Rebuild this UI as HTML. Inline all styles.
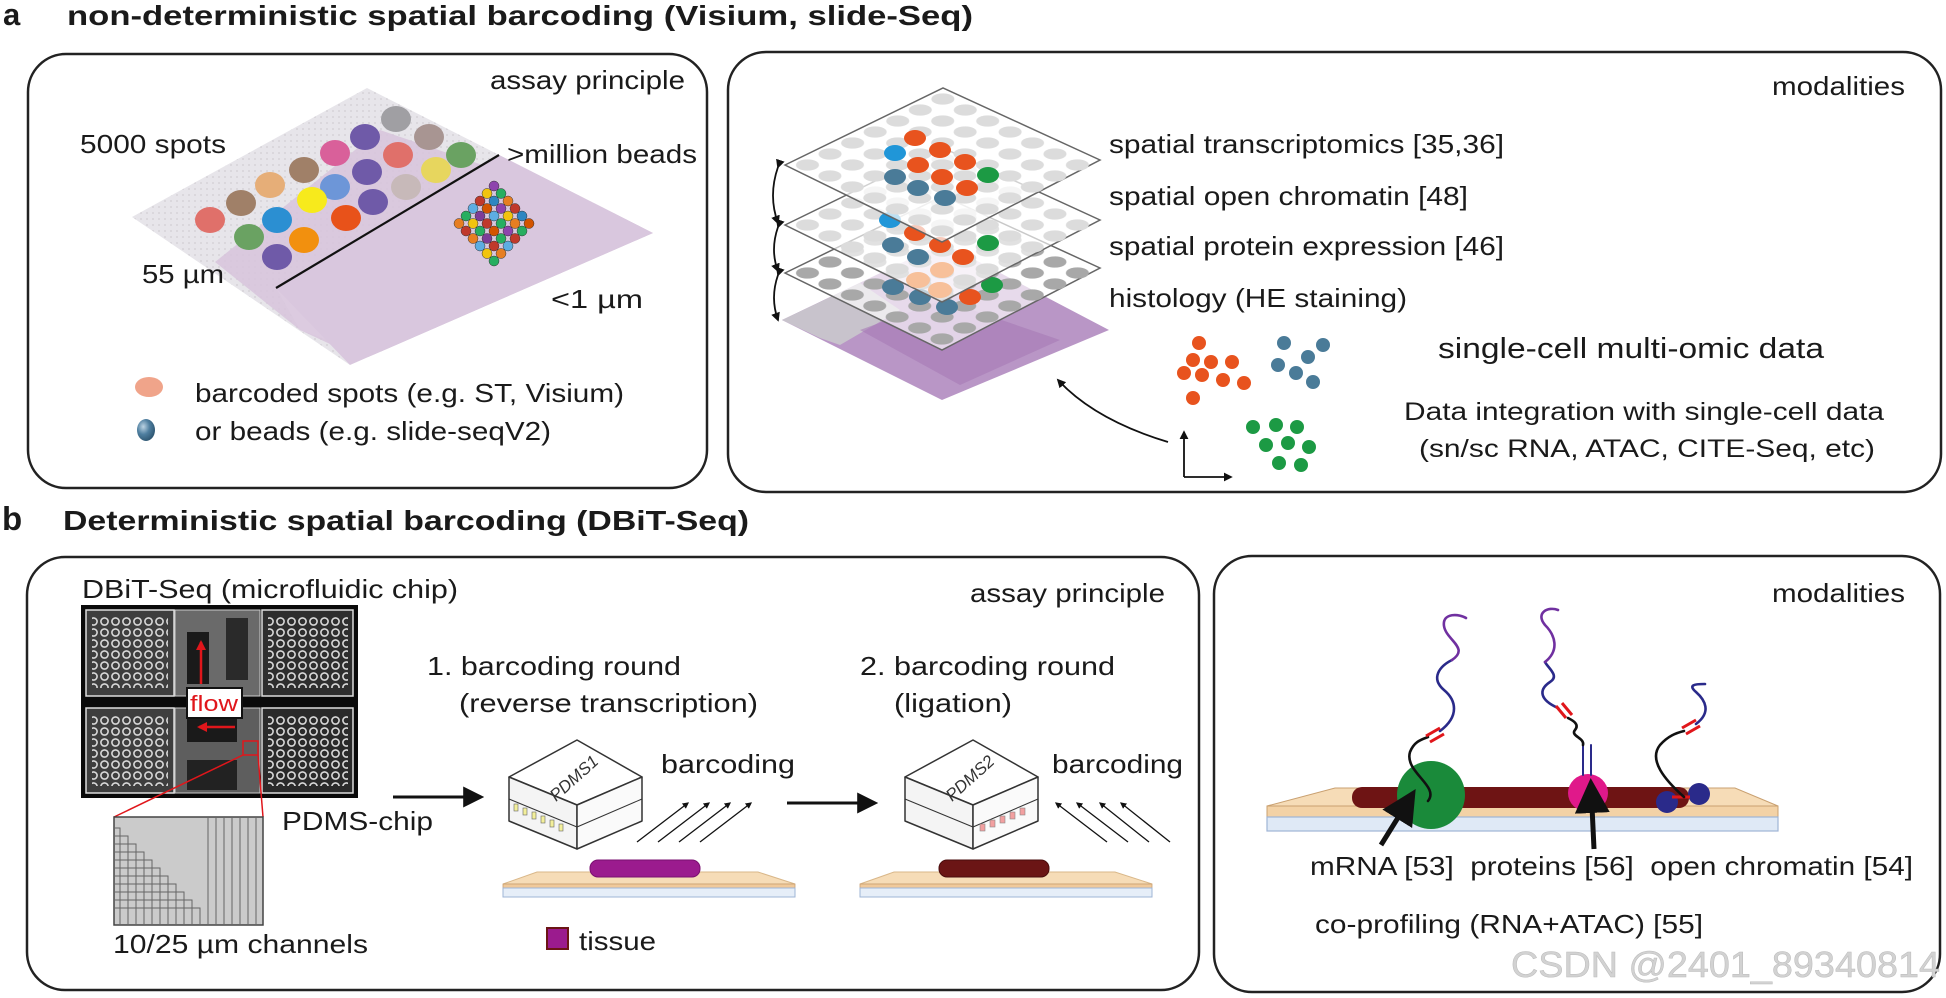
<!DOCTYPE html>
<html><head><meta charset="utf-8"><style>
html,body{margin:0;padding:0;background:#fff;}
svg{display:block;}
text{font-family:"Liberation Sans",Arial,sans-serif;fill:#1a1a1a;}
</style></head><body>
<svg width="1946" height="998" viewBox="0 0 1946 998" xmlns="http://www.w3.org/2000/svg">
<defs>
<marker id="ah" viewBox="0 0 10 10" refX="8" refY="5" markerWidth="7" markerHeight="7" orient="auto-start-reverse"><path d="M0,0 L10,5 L0,10 z" fill="#111"/></marker>
<marker id="ahs" viewBox="0 0 10 10" refX="8" refY="5" markerWidth="5" markerHeight="5" orient="auto"><path d="M0,0 L10,5 L0,10 z" fill="#111"/></marker>
<marker id="ahr" viewBox="0 0 10 10" refX="8" refY="5" markerWidth="4" markerHeight="4" orient="auto"><path d="M0,0 L10,5 L0,10 z" fill="#e0161b"/></marker>
<pattern id="grid" x="0" y="0" width="0.1428" height="0.1428" patternUnits="userSpaceOnUse"><circle cx="0.0714" cy="0.0714" r="0.052" fill="#dcdcdc"/></pattern>
<pattern id="grid2" x="0" y="0" width="0.1428" height="0.1428" patternUnits="userSpaceOnUse"><circle cx="0.0714" cy="0.0714" r="0.052" fill="#a8a8a8"/></pattern>
<pattern id="wells" x="0" y="0" width="11" height="11" patternUnits="userSpaceOnUse"><circle cx="5.5" cy="5.5" r="3.6" fill="none" stroke="#d8d8d8" stroke-width="1.6"/></pattern>
<pattern id="dots" x="0" y="0" width="6" height="6" patternUnits="userSpaceOnUse"><circle cx="3" cy="3" r="1" fill="#c9c6cc"/></pattern>
<radialGradient id="bead" cx="0.35" cy="0.35" r="0.7"><stop offset="0" stop-color="#bcd3e3"/><stop offset="0.5" stop-color="#4f7fa0"/><stop offset="1" stop-color="#2d5570"/></radialGradient>
<clipPath id="slideclip"><polygon points="132,217 367,88 653,233 350,365"/></clipPath>
</defs>

<!-- Titles -->
<text x="3" y="25" font-size="31" font-weight="bold" textLength="19">a</text>
<text x="67" y="25" font-size="28" font-weight="bold" textLength="906" lengthAdjust="spacingAndGlyphs">non-deterministic spatial barcoding (Visium, slide-Seq)</text>
<text x="2" y="530" font-size="33" font-weight="bold" textLength="25">b</text>
<text x="63" y="530" font-size="28" font-weight="bold" textLength="686" lengthAdjust="spacingAndGlyphs">Deterministic spatial barcoding (DBiT-Seq)</text>

<!-- Boxes -->
<rect x="28" y="54" width="679" height="434" rx="38" fill="none" stroke="#222" stroke-width="2.5"/>
<rect x="728" y="52" width="1213" height="440" rx="38" fill="none" stroke="#222" stroke-width="2.5"/>
<rect x="27" y="557" width="1172" height="433" rx="38" fill="none" stroke="#222" stroke-width="2.5"/>
<rect x="1214" y="556" width="726" height="436" rx="38" fill="none" stroke="#222" stroke-width="2.5"/>

<!-- ===== a-left ===== -->
<text x="490" y="89" font-size="26" textLength="195" lengthAdjust="spacingAndGlyphs">assay principle</text>
<polygon points="132,217 367,88 653,233 350,365" fill="#e7e5ea"/>
<polygon points="132,217 367,88 653,233 350,365" fill="url(#dots)" opacity="0.6"/>
<g clip-path="url(#slideclip)">
<polygon points="215,262 380,130 600,205 653,233 520,330 360,358 300,330" fill="#d7c4dc" opacity="0.85"/>
<polygon points="500,155 653,233 520,330 370,355 300,330 276,288" fill="#dccbe0"/>
<polygon points="276,288 499,155 653,233 350,365" fill="#d9c7de"/>
</g>
<line x1="276" y1="288" x2="499" y2="155" stroke="#111" stroke-width="2.2"/>
<g>
<ellipse cx="396" cy="119" rx="15" ry="13" fill="#a09fa3"/>
<ellipse cx="365" cy="137" rx="15" ry="13" fill="#6f5aa8"/>
<ellipse cx="429" cy="137" rx="15" ry="13" fill="#a89592"/>
<ellipse cx="335" cy="153" rx="15" ry="13" fill="#d9609a"/>
<ellipse cx="398" cy="155" rx="15" ry="13" fill="#e0706a"/>
<ellipse cx="461" cy="155" rx="15" ry="13" fill="#6aa262"/>
<ellipse cx="304" cy="170" rx="15" ry="13" fill="#a08068"/>
<ellipse cx="367" cy="172" rx="15" ry="13" fill="#6f5aa8"/>
<ellipse cx="436" cy="170" rx="15" ry="13" fill="#e7d65e"/>
<ellipse cx="270" cy="185" rx="15" ry="13" fill="#e6ae78"/>
<ellipse cx="335" cy="187" rx="15" ry="13" fill="#6d96d8"/>
<ellipse cx="406" cy="187" rx="15" ry="13" fill="#c7b9b9"/>
<ellipse cx="241" cy="203" rx="15" ry="13" fill="#a08068"/>
<ellipse cx="312" cy="200" rx="15" ry="13" fill="#f7ea1c"/>
<ellipse cx="373" cy="202" rx="15" ry="13" fill="#6f5aa8"/>
<ellipse cx="210" cy="220" rx="15" ry="13" fill="#e0706a"/>
<ellipse cx="277" cy="220" rx="15" ry="13" fill="#2b8fd2"/>
<ellipse cx="346" cy="218" rx="15" ry="13" fill="#e8521a"/>
<ellipse cx="249" cy="237" rx="15" ry="13" fill="#6aa262"/>
<ellipse cx="304" cy="240" rx="15" ry="13" fill="#f2900e"/>
<ellipse cx="277" cy="257" rx="15" ry="13" fill="#6f5aa8"/>
</g>
<g stroke="#333" stroke-width="0.5">
<circle cx="494" cy="186" r="5" fill="#8e44ad"/><circle cx="487" cy="193.5" r="5" fill="#f1c40f"/><circle cx="480" cy="201" r="5" fill="#c0392b"/><circle cx="473" cy="208.5" r="5" fill="#5dade2"/><circle cx="466" cy="216" r="5" fill="#27ae60"/><circle cx="459" cy="223.5" r="5" fill="#e67e22"/>
<circle cx="501" cy="193.5" r="5" fill="#27ae60"/><circle cx="494" cy="201" r="5" fill="#2e86c1"/><circle cx="487" cy="208.5" r="5" fill="#d35400"/><circle cx="480" cy="216" r="5" fill="#7d3c98"/><circle cx="473" cy="223.5" r="5" fill="#f1c40f"/><circle cx="466" cy="231" r="5" fill="#c0392b"/>
<circle cx="508" cy="201" r="5" fill="#e67e22"/><circle cx="501" cy="208.5" r="5" fill="#8e44ad"/><circle cx="494" cy="216" r="5" fill="#5dade2"/><circle cx="487" cy="223.5" r="5" fill="#c0392b"/><circle cx="480" cy="231" r="5" fill="#27ae60"/><circle cx="473" cy="238.5" r="5" fill="#e67e22"/>
<circle cx="515" cy="208.5" r="5" fill="#c0392b"/><circle cx="508" cy="216" r="5" fill="#f1c40f"/><circle cx="501" cy="223.5" r="5" fill="#27ae60"/><circle cx="494" cy="231" r="5" fill="#d35400"/><circle cx="487" cy="238.5" r="5" fill="#7d3c98"/><circle cx="480" cy="246" r="5" fill="#5dade2"/>
<circle cx="522" cy="216" r="5" fill="#2e86c1"/><circle cx="515" cy="223.5" r="5" fill="#e67e22"/><circle cx="508" cy="231" r="5" fill="#8e44ad"/><circle cx="501" cy="238.5" r="5" fill="#27ae60"/><circle cx="494" cy="246" r="5" fill="#c0392b"/><circle cx="487" cy="253.5" r="5" fill="#f1c40f"/>
<circle cx="529" cy="223.5" r="5" fill="#d35400"/><circle cx="522" cy="231" r="5" fill="#27ae60"/><circle cx="515" cy="238.5" r="5" fill="#c0392b"/><circle cx="508" cy="246" r="5" fill="#5dade2"/><circle cx="501" cy="253.5" r="5" fill="#e67e22"/><circle cx="494" cy="261" r="5" fill="#27ae60"/>
</g>
<text x="80" y="153" font-size="26" textLength="146" lengthAdjust="spacingAndGlyphs">5000 spots</text>
<text x="507" y="163" font-size="26" textLength="190" lengthAdjust="spacingAndGlyphs">&gt;million beads</text>
<text x="142" y="283" font-size="26" textLength="82" lengthAdjust="spacingAndGlyphs">55 µm</text>
<text x="551" y="308" font-size="26" textLength="92" lengthAdjust="spacingAndGlyphs">&lt;1 µm</text>
<ellipse cx="149" cy="387" rx="14" ry="10" fill="#f0a48a"/>
<ellipse cx="146" cy="430" rx="9" ry="11" fill="url(#bead)"/>
<text x="195" y="402" font-size="26" textLength="429" lengthAdjust="spacingAndGlyphs">barcoded spots (e.g. ST, Visium)</text>
<text x="195" y="440" font-size="26" textLength="356" lengthAdjust="spacingAndGlyphs">or beads (e.g. slide-seqV2)</text>

<!-- ===== a-right ===== -->
<text x="1772" y="95" font-size="26" textLength="133" lengthAdjust="spacingAndGlyphs">modalities</text>
<polygon points="782,320 943,243 1109,330 942,400" fill="#b996c6"/>
<polygon points="782,320 860,283 900,310 840,345 820,338" fill="#c8c3cc"/>
<polygon points="860,330 943,300 1060,340 960,385" fill="#a679b5" opacity="0.6"/>
<polygon points="785,273 943,196 1100,268 942,350" fill="#fff" fill-opacity="0.65" stroke="#666" stroke-width="1.5"/>
<g transform="matrix(158,-77,157,77,785,273)"><rect x="0" y="0" width="1" height="1" fill="url(#grid2)"/></g>
<ellipse cx="893" cy="287" rx="11" ry="8" fill="#4a7b98"/><ellipse cx="920" cy="297" rx="11" ry="8" fill="#4a7b98"/><ellipse cx="947" cy="307" rx="11" ry="8" fill="#4a7b98"/><ellipse cx="970" cy="297" rx="11" ry="8" fill="#e8531e"/><ellipse cx="992" cy="285" rx="11" ry="8" fill="#1c9a44"/>
<polygon points="785,225 943,148 1100,220 942,302" fill="#fff" fill-opacity="0.65" stroke="#666" stroke-width="1.5"/>
<g transform="matrix(158,-77,157,77,785,225)"><rect x="0" y="0" width="1" height="1" fill="url(#grid)"/></g>
<ellipse cx="890" cy="220" rx="11" ry="8" fill="#2096d8"/><ellipse cx="915" cy="233" rx="11" ry="8" fill="#e8531e"/><ellipse cx="940" cy="245" rx="11" ry="8" fill="#e8531e"/><ellipse cx="963" cy="257" rx="11" ry="8" fill="#e8531e"/><ellipse cx="893" cy="245" rx="11" ry="8" fill="#4a7b98"/><ellipse cx="918" cy="257" rx="11" ry="8" fill="#4a7b98"/><ellipse cx="988" cy="243" rx="11" ry="8" fill="#1c9a44"/>
<ellipse cx="918" cy="280" rx="12" ry="8" fill="#f7c09a"/><ellipse cx="942" cy="270" rx="12" ry="8" fill="#f7c09a"/><ellipse cx="940" cy="290" rx="12" ry="8" fill="#f7c09a"/>
<polygon points="785,165 943,88 1100,160 942,242" fill="#fff" fill-opacity="0.7" stroke="#666" stroke-width="1.5"/>
<g transform="matrix(158,-77,157,77,785,165)"><rect x="0" y="0" width="1" height="1" fill="url(#grid)"/></g>
<ellipse cx="915" cy="138" rx="11" ry="8" fill="#e8531e"/><ellipse cx="940" cy="150" rx="11" ry="8" fill="#e8531e"/><ellipse cx="918" cy="165" rx="11" ry="8" fill="#e8531e"/><ellipse cx="965" cy="162" rx="11" ry="8" fill="#e8531e"/><ellipse cx="942" cy="177" rx="11" ry="8" fill="#e8531e"/><ellipse cx="967" cy="188" rx="11" ry="8" fill="#e8531e"/>
<ellipse cx="895" cy="153" rx="11" ry="8" fill="#2096d8"/><ellipse cx="895" cy="177" rx="11" ry="8" fill="#4a7b98"/><ellipse cx="918" cy="188" rx="11" ry="8" fill="#4a7b98"/><ellipse cx="945" cy="198" rx="11" ry="8" fill="#4a7b98"/><ellipse cx="988" cy="175" rx="11" ry="8" fill="#1c9a44"/>
<g fill="none" stroke="#111" stroke-width="1.8">
<path d="M778,167 Q768,196 778,223" marker-start="url(#ahs)" marker-end="url(#ahs)"/>
<path d="M778,227 Q770,250 778,271" marker-start="url(#ahs)" marker-end="url(#ahs)"/>
<path d="M778,275 Q770,298 778,320" marker-start="url(#ahs)" marker-end="url(#ahs)"/>
</g>
<text x="1109" y="153" font-size="26" textLength="395" lengthAdjust="spacingAndGlyphs">spatial transcriptomics [35,36]</text>
<text x="1109" y="205" font-size="26" textLength="359" lengthAdjust="spacingAndGlyphs">spatial open chromatin [48]</text>
<text x="1109" y="255" font-size="26" textLength="395" lengthAdjust="spacingAndGlyphs">spatial protein expression [46]</text>
<text x="1109" y="307" font-size="26" textLength="298" lengthAdjust="spacingAndGlyphs">histology (HE staining)</text>
<g fill="#e8531e"><circle cx="1199" cy="343" r="7"/><circle cx="1193" cy="360" r="7"/><circle cx="1211" cy="362" r="7"/><circle cx="1232" cy="362" r="7"/><circle cx="1184" cy="373" r="7"/><circle cx="1202" cy="375" r="7"/><circle cx="1223" cy="380" r="7"/><circle cx="1244" cy="383" r="7"/><circle cx="1193" cy="398" r="7"/></g>
<g fill="#4a7b98"><circle cx="1284" cy="343" r="7"/><circle cx="1323" cy="345" r="7"/><circle cx="1308" cy="357" r="7"/><circle cx="1278" cy="365" r="7"/><circle cx="1296" cy="373" r="7"/><circle cx="1313" cy="382" r="7"/></g>
<g fill="#1c9a44"><circle cx="1253" cy="427" r="7"/><circle cx="1276" cy="425" r="7"/><circle cx="1297" cy="427" r="7"/><circle cx="1266" cy="445" r="7"/><circle cx="1288" cy="443" r="7"/><circle cx="1309" cy="447" r="7"/><circle cx="1279" cy="463" r="7"/><circle cx="1301" cy="465" r="7"/></g>
<g fill="none" stroke="#111" stroke-width="1.8">
<path d="M1184,477 L1184,432" marker-end="url(#ahs)"/>
<path d="M1184,477 L1231,477" marker-end="url(#ahs)"/>
<path d="M1168,442 Q1095,420 1058,380" marker-end="url(#ahs)"/>
</g>
<text x="1438" y="358" font-size="29" textLength="386" lengthAdjust="spacingAndGlyphs">single-cell multi-omic data</text>
<text x="1404" y="420" font-size="25" textLength="480" lengthAdjust="spacingAndGlyphs">Data integration with single-cell data</text>
<text x="1419" y="457" font-size="25" textLength="456" lengthAdjust="spacingAndGlyphs">(sn/sc RNA, ATAC, CITE-Seq, etc)</text>

<!-- ===== b-left ===== -->
<text x="82" y="598" font-size="26" textLength="376" lengthAdjust="spacingAndGlyphs">DBiT-Seq (microfluidic chip)</text>
<text x="970" y="602" font-size="26" textLength="195" lengthAdjust="spacingAndGlyphs">assay principle</text>
<rect x="81" y="605" width="277" height="193" fill="#0a0a0a"/>
<rect x="86" y="610" width="88" height="86" fill="#3e3e3e" stroke="#ddd" stroke-width="1.5"/>
<rect x="262" y="610" width="91" height="86" fill="#2e2e2e" stroke="#ddd" stroke-width="1.5"/>
<rect x="86" y="708" width="88" height="85" fill="#3e3e3e" stroke="#ddd" stroke-width="1.5"/>
<rect x="262" y="708" width="91" height="85" fill="#2a2a2a" stroke="#ddd" stroke-width="1.5"/>
<rect x="92" y="616" width="76" height="72" fill="url(#wells)"/>
<rect x="268" y="616" width="80" height="72" fill="url(#wells)"/>
<rect x="92" y="714" width="76" height="72" fill="url(#wells)"/>
<rect x="268" y="714" width="80" height="72" fill="url(#wells)"/>
<rect x="175" y="610" width="85" height="86" fill="#6a6a6a" stroke="#ccc" stroke-width="1"/>
<rect x="175" y="708" width="85" height="85" fill="#5e5e5e" stroke="#ccc" stroke-width="1"/>
<rect x="187" y="632" width="22" height="52" fill="#1a1a1a"/>
<rect x="226" y="618" width="22" height="62" fill="#2a2a2a"/>
<rect x="187" y="712" width="50" height="30" fill="#1a1a1a"/>
<rect x="187" y="760" width="50" height="30" fill="#222"/>
<rect x="81" y="697" width="277" height="10" fill="#0a0a0a"/>
<line x1="201" y1="684" x2="201" y2="642" stroke="#e0161b" stroke-width="2.5" marker-end="url(#ahr)"/>
<rect x="187" y="688" width="55" height="30" fill="#fff" stroke="#111" stroke-width="2"/>
<text x="190" y="711" font-size="22" style="fill:#e0161b" textLength="48" lengthAdjust="spacingAndGlyphs">flow</text>
<line x1="235" y1="727" x2="199" y2="727" stroke="#e0161b" stroke-width="2.5" marker-end="url(#ahr)"/>
<rect x="243" y="741" width="15" height="14" fill="none" stroke="#e0161b" stroke-width="1.5"/>
<line x1="243" y1="755" x2="114" y2="817" stroke="#e0161b" stroke-width="1.5"/>
<line x1="258" y1="755" x2="263" y2="817" stroke="#e0161b" stroke-width="1.5"/>
<rect x="114" y="817" width="149" height="108" fill="#cbcbcb" stroke="#444" stroke-width="1.5"/>
<g fill="none" stroke="#666" stroke-width="1">
<path d="M114,828 H120 V925"/><path d="M114,836 H128 V925"/><path d="M114,844 H136 V925"/><path d="M114,852 H144 V925"/><path d="M114,860 H152 V925"/><path d="M114,868 H160 V925"/><path d="M114,876 H168 V925"/><path d="M114,884 H176 V925"/><path d="M114,892 H184 V925"/><path d="M114,900 H192 V925"/><path d="M114,908 H200 V925"/>
<path d="M208,817 V925"/><path d="M216,817 V925"/><path d="M224,817 V925"/><path d="M232,817 V925"/><path d="M240,817 V925"/><path d="M248,817 V925"/><path d="M256,817 V925"/>
</g>
<text x="113" y="953" font-size="26" textLength="255" lengthAdjust="spacingAndGlyphs">10/25 µm channels</text>
<text x="282" y="830" font-size="26" textLength="151" lengthAdjust="spacingAndGlyphs">PDMS-chip</text>
<line x1="393" y1="797" x2="480" y2="797" stroke="#111" stroke-width="3" marker-end="url(#ah)"/>
<text x="427" y="675" font-size="26" textLength="254" lengthAdjust="spacingAndGlyphs">1. barcoding round</text>
<text x="459" y="712" font-size="26" textLength="299" lengthAdjust="spacingAndGlyphs">(reverse transcription)</text>
<text x="860" y="675" font-size="26" textLength="255" lengthAdjust="spacingAndGlyphs">2. barcoding round</text>
<text x="894" y="712" font-size="26" textLength="118" lengthAdjust="spacingAndGlyphs">(ligation)</text>
<g stroke="#333" stroke-width="1.5" stroke-linejoin="round">
<polygon points="577,740 642,777 577,805 509,777" fill="#fff"/>
<polygon points="509,777 577,805 577,849 509,821" fill="#f4f4f4"/>
<polygon points="577,805 642,777 642,821 577,849" fill="#fafafa"/>
<polyline points="509,799 577,827 642,799" fill="none" stroke-width="1"/>
</g>
<g fill="#f3ef9a" stroke="#666" stroke-width="0.6"><rect x="514" y="804" width="4" height="7"/><rect x="523" y="808" width="4" height="7"/><rect x="532" y="812" width="4" height="7"/><rect x="541" y="816" width="4" height="7"/><rect x="550" y="820" width="4" height="7"/><rect x="559" y="824" width="4" height="7"/></g>
<text x="0" y="0" font-size="17" font-style="italic" transform="translate(556,802) rotate(-42)" style="fill:#333">PDMS1</text>
<text x="661" y="773" font-size="26" textLength="134" lengthAdjust="spacingAndGlyphs">barcoding</text>
<g stroke="#111" stroke-width="1.3" marker-end="url(#ahs)">
<line x1="637" y1="842" x2="688" y2="803"/><line x1="658" y1="842" x2="709" y2="803"/><line x1="679" y1="842" x2="730" y2="803"/><line x1="700" y1="842" x2="751" y2="803"/>
</g>
<polygon points="537,872 758,872 795,884 503,884" fill="#f6dcb7" stroke="#d9b789" stroke-width="1"/>
<rect x="503" y="884" width="292" height="4" fill="#f0c99a" stroke="#c9a070" stroke-width="0.8"/>
<rect x="503" y="888" width="292" height="9" fill="#e6eef8" stroke="#9fb5d6" stroke-width="1"/>
<rect x="590" y="860" width="110" height="17" rx="8" fill="#9b1b8e" stroke="#7a1070"/>
<line x1="787" y1="803" x2="874" y2="803" stroke="#111" stroke-width="3" marker-end="url(#ah)"/>
<g stroke="#333" stroke-width="1.5" stroke-linejoin="round">
<polygon points="973,740 1038,777 973,805 905,777" fill="#fff"/>
<polygon points="905,777 973,805 973,849 905,821" fill="#f4f4f4"/>
<polygon points="973,805 1038,777 1038,821 973,849" fill="#fafafa"/>
<polyline points="905,799 973,827 1038,799" fill="none" stroke-width="1"/>
</g>
<g fill="#f2a0a0" stroke="#888" stroke-width="0.6"><rect x="980" y="824" width="5" height="7"/><rect x="990" y="820" width="5" height="7"/><rect x="1000" y="816" width="5" height="7"/><rect x="1010" y="812" width="5" height="7"/><rect x="1020" y="808" width="5" height="7"/></g>
<text x="0" y="0" font-size="17" font-style="italic" transform="translate(952,802) rotate(-42)" style="fill:#333">PDMS2</text>
<text x="1052" y="773" font-size="26" textLength="131" lengthAdjust="spacingAndGlyphs">barcoding</text>
<g stroke="#111" stroke-width="1.3" marker-end="url(#ahs)">
<line x1="1107" y1="842" x2="1056" y2="803"/><line x1="1128" y1="842" x2="1077" y2="803"/><line x1="1149" y1="842" x2="1100" y2="803"/><line x1="1170" y1="842" x2="1121" y2="803"/>
</g>
<polygon points="894,872 1115,872 1152,884 860,884" fill="#f6dcb7" stroke="#d9b789" stroke-width="1"/>
<rect x="860" y="884" width="292" height="4" fill="#f0c99a" stroke="#c9a070" stroke-width="0.8"/>
<rect x="860" y="888" width="292" height="9" fill="#e6eef8" stroke="#9fb5d6" stroke-width="1"/>
<rect x="939" y="860" width="110" height="17" rx="8" fill="#6b1515" stroke="#4a0d0d"/>
<rect x="547" y="928" width="21" height="21" fill="#9b1b8e" stroke="#6b1515" stroke-width="2"/>
<text x="579" y="950" font-size="26" textLength="77" lengthAdjust="spacingAndGlyphs">tissue</text>

<!-- ===== b-right ===== -->
<text x="1772" y="602" font-size="26" textLength="133" lengthAdjust="spacingAndGlyphs">modalities</text>
<polygon points="1335,788 1735,788 1778,806 1267,806" fill="#f6dcb7" stroke="#c9a070" stroke-width="1"/>
<rect x="1267" y="806" width="511" height="11" fill="#f3d2a6" stroke="#c9a070" stroke-width="1"/>
<rect x="1267" y="817" width="511" height="14" fill="#dfe9f6" stroke="#9fb5d6" stroke-width="1.2"/>
<rect x="1352" y="787" width="337" height="21" rx="10" fill="#6e1414"/>
<ellipse cx="1431" cy="795" rx="34" ry="34" fill="#1a8a3a"/>
<ellipse cx="1588" cy="793" rx="20" ry="19" fill="#e0198a"/>
<circle cx="1667" cy="802" r="11" fill="#2a2a8a"/>
<circle cx="1699" cy="794" r="11" fill="#2a2a8a"/>
<line x1="1672" y1="797" x2="1690" y2="797" stroke="#e0161b" stroke-width="3"/>
<g fill="none" stroke-width="2.6" stroke-linecap="round">
<path d="M1428,801 C1440,786 1404,772 1410,752 C1414,742 1420,740 1428,737" stroke="#111"/>
<path d="M1440,731 C1460,716 1456,700 1444,690 C1430,678 1440,666 1452,660" stroke="#2a2a8a"/>
<path d="M1452,660 C1470,648 1446,640 1444,626 C1442,612 1460,614 1466,618" stroke="#7030a0"/>
<path d="M1583,775 L1583,745 M1591,775 L1591,745" stroke="#2a2a8a" stroke-width="2"/>
<path d="M1583,745 C1585,738 1570,736 1575,730 C1580,724 1572,720 1568,718" stroke="#111"/>
<path d="M1558,708 C1540,700 1538,690 1550,682 C1560,676 1548,668 1545,662" stroke="#2a2a8a"/>
<path d="M1545,662 C1560,650 1555,635 1545,625 C1535,613 1548,606 1558,610" stroke="#7030a0"/>
<path d="M1684,797 C1665,780 1648,760 1660,745 C1668,736 1676,733 1684,731" stroke="#111"/>
<path d="M1696,724 C1712,712 1705,700 1696,692 C1688,685 1694,684 1705,684" stroke="#2a2a8a"/>
</g>
<g stroke="#e0161b" stroke-width="3">
<line x1="1426" y1="736" x2="1440" y2="728"/><line x1="1430" y1="742" x2="1444" y2="734"/>
<line x1="1556" y1="706" x2="1566" y2="718"/><line x1="1562" y1="703" x2="1572" y2="715"/>
<line x1="1682" y1="728" x2="1696" y2="720"/><line x1="1686" y1="734" x2="1700" y2="726"/>
</g>
<g stroke="#111" stroke-width="5" marker-end="url(#ah)">
<line x1="1381" y1="845" x2="1412" y2="795"/>
<line x1="1594" y1="849" x2="1591" y2="785"/>
</g>
<text x="1310" y="875" font-size="26" textLength="603" lengthAdjust="spacingAndGlyphs" xml:space="preserve">mRNA [53]  proteins [56]  open chromatin [54]</text>
<text x="1315" y="933" font-size="26" textLength="388" lengthAdjust="spacingAndGlyphs">co-profiling (RNA+ATAC) [55]</text>
<text x="1511" y="977" font-size="36" textLength="429" lengthAdjust="spacingAndGlyphs" style="fill:#d2d2d2;stroke:#bbb;stroke-width:0.5">CSDN @2401_89340814</text>
</svg>
</body></html>
